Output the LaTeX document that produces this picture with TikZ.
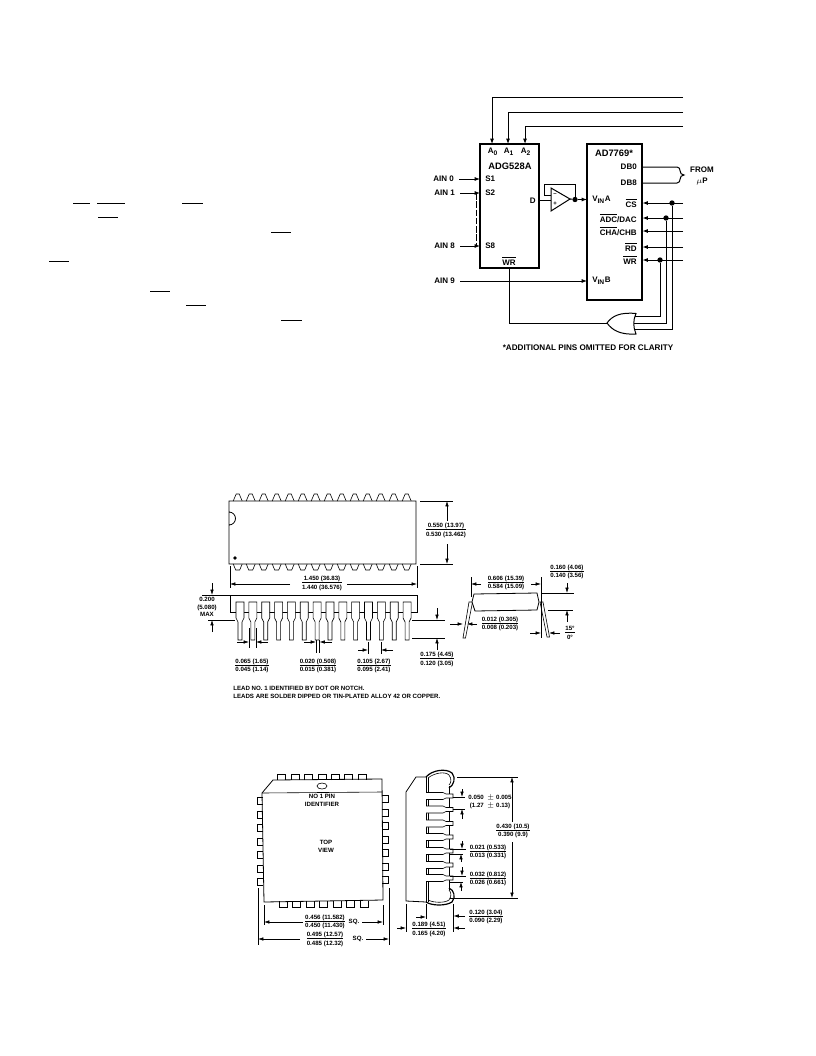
\documentclass[tikz,border=0pt]{standalone}
\usepackage{fontspec}
\setmainfont{Liberation Sans}
\usetikzlibrary{arrows.meta}
\newcommand{\ovl}[1]{$\overline{\hbox{#1}}$}
\newcommand{\fr}[2]{\begin{tabular}{@{}c@{}}#1\\[-0.4pt]\hline\rule{0pt}{4.8pt}#2\end{tabular}}
\tikzset{
  wire/.style={line width=0.75pt,black},
  arw/.style={wire,-{Latex[length=4pt,width=3pt]}},
  sch/.style={font=\fontsize{6}{7}\selectfont\bfseries,inner sep=0pt},
  schl/.style={sch,anchor=west},
  schr/.style={sch,anchor=east},
  title/.style={font=\fontsize{7}{8}\selectfont\bfseries,inner sep=0pt},
  box/.style={line width=1.1pt,black},
  dm/.style={line width=0.45pt,black},
  dmp/.style={line width=0.6pt,black},
  dma/.style={dm,-{Latex[length=4pt,width=2.6pt]}},
  lab/.style={font=\fontsize{4.6}{5.5}\selectfont\bfseries,inner sep=0pt,align=center},
  lablt/.style={font=\fontsize{4.6}{5.5}\selectfont\bfseries,inner sep=0pt,align=left,anchor=west},
  dot/.style={circle,fill=black,inner sep=0pt,minimum size=4pt}
}
\begin{document}
\begin{tikzpicture}[x=0.75pt,y=-0.75pt]
\useasboundingbox (0,0) rectangle (816,1056);
\fill[white] (0,0) rectangle (816,1056);
% overbars of the text column
\foreach \a/\b/\c in {73/90/203,97/125/203,182/203/203,98/118/217,271/291/232,49/69/261,150/170/291,186/206/305,281/302/320}
  \draw[line width=0.7pt] (\a,\c) -- (\b,\c);
% ===== schematic =====
\draw[box] (480,144) rectangle (539,268);
\draw[box] (587,144) rectangle (642,300);
\node[title] (adg) at (510,166) {ADG528A};
\node[title] (ad) at (614,153) {AD7769*};
\coordinate (a0in) at (492,144);
\coordinate (a1in) at (508,144);
\coordinate (a2in) at (525,144);
\coordinate (a0e) at (683,97);
\coordinate (a1e) at (683,112);
\coordinate (a2e) at (683,126);
\draw[arw] (a0e) -- (a0e -| a0in) -- (a0in);
\draw[arw] (a1e) -- (a1e -| a1in) -- (a1in);
\draw[arw] (a2e) -- (a2e -| a2in) -- (a2in);
\node[sch] (a0l) at (493,152) {A\textsubscript{0}};
\node[sch] (a1l) at (509,152) {A\textsubscript{1}};
\node[sch] (a2l) at (526,152) {A\textsubscript{2}};
% inputs
\node[schr] (ain0) at (454,179) {AIN 0};
\node[schr] (ain1) at (455,193) {AIN 1};
\node[schr] (ain8) at (455,246) {AIN 8};
\node[schr] (ain9) at (455,281) {AIN 9};
\node[schl] (s1) at (485,179) {S1};
\node[schl] (s2) at (485,193) {S2};
\node[schl] (s8) at (485,246) {S8};
\coordinate (s1p) at (480,179);
\coordinate (s2p) at (480,193);
\coordinate (s8p) at (480,246);
\draw[arw] ([xshift=4pt]ain0.east) -- (s1p);
\draw[arw] ([xshift=4pt]ain1.east) -- (s2p);
\draw[arw] ([xshift=4pt]ain8.east) -- (s8p);
\draw[wire,dash pattern=on 5pt off 1.2pt] (476,193) -- (476,246);
\node[schr] (dl) at (536,201) {D};
\node[sch] (wr1) at (509,261) {\ovl{WR}};
\coordinate (wrp) at (509,268);
% op amp
\coordinate (opa) at (551,188);
\coordinate (opb) at (551,211);
\coordinate (opc) at (570,199);
\draw[line width=0.75pt,fill=white] (opa) -- (opb) -- (opc) -- cycle;
\coordinate (dp) at (539,200);
\draw[wire] (dp) -- (551,200);
\node[font=\fontsize{4.5}{5}\selectfont\bfseries,inner sep=0pt] (opm) at (555,195) {–};
\node[font=\fontsize{4.5}{5}\selectfont\bfseries,inner sep=0pt] (opp) at (555,204) {+};
\node[dot] (opd) at (575,199.5) {};
\draw[wire] (551,195) -- (544,195) -- (544,184) -- (575,184) -- (opd);
\draw[wire] (opc) -- (opd);
\coordinate (vina) at (587,199.5);
\draw[arw] (opd) -- (vina);
\node[schl] (vinal) at (592,199.5) {V\textsubscript{IN}A};
\node[schl] (vinbl) at (592,280.5) {V\textsubscript{IN}B};
\coordinate (vinb) at (587,281);
\draw[arw] ([xshift=4pt]ain9.east) -- (vinb);
% right pins
\node[schr] (db0) at (637,167) {DB0};
\node[schr] (db8) at (637,183) {DB8};
\node[schr] (cs) at (637,203) {\ovl{CS}};
\node[schr] (adc) at (637,218) {\ovl{ADC}/DAC};
\node[schr] (cha) at (637,231) {\ovl{CHA}/CHB};
\node[schr] (rd) at (637,247) {\ovl{RD}};
\node[schr] (wr2) at (637,260) {\ovl{WR}};
\coordinate (db0p) at (642,167);
\coordinate (db8p) at (642,183);
\draw[wire] (db0p) -- (677,167) .. controls (682,167) and (678,175) .. (684,175) .. controls (678,175) and (682,183) .. (677,183) -- (db8p);
\node[sch] (from) at (702,170) {FROM};
\node[sch] (up) at (702,182) {$\mu$P};
\foreach \n/\y/\e in {csp/203/cse,adcp/218/adce,chap/231/chae,rdp/247/rde,wrp2/260/wre}{
  \coordinate (\n) at (642.5,\y);
  \coordinate (\e) at (683,\y);
  \draw[arw] (\e) -- (\n);
}
\node[dot] (csd) at (672,203) {};
\node[dot] (adcd) at (666,218) {};
\node[dot] (wrd) at (660,260) {};
% OR gate
\coordinate (ortip) at (607,323);
\draw[line width=0.75pt,fill=white] (ortip) .. controls (612,316) and (620,312) .. (636,313.5) .. controls (633,320) and (633,327) .. (636,334) .. controls (620,335) and (612,330) .. (ortip) -- cycle;
\draw[wire] (wrp) -- (509,323) -- (ortip);
\draw[wire] (634.5,316.5) -- (660,316.5) -- (wrd);
\draw[wire] (634,323) -- (666,323) -- (adcd);
\draw[wire] (634.5,329.5) -- (672,329.5) -- (csd);
\node[font=\fontsize{6.1}{7}\selectfont\bfseries,inner sep=0pt] (note1) at (588,348) {*ADDITIONAL PINS OMITTED FOR CLARITY};
% ===== DIP top view =====
\draw[dmp] (229,501) -- (229,525) arc[start angle=90,end angle=-90,radius=6.5] -- (229,564) -- (416,564) -- (416,501) -- cycle;
\fill (235,558) circle (1.8);
\foreach \i in {0,...,13}{
  \pgfmathsetmacro{\c}{237.7+13*\i}
  \draw[dm] (\c-4.5,501) -- (\c-3,497.5) -- (\c-1.5,494) -- (\c+1.5,494) -- (\c+3,497.5) -- (\c+4.5,501);
  \draw[dm] (\c-4.5,564) -- (\c-2,570) -- (\c+2,570) -- (\c+4.5,564);
}
\draw[dm] (420,501) -- (453,501) (420,564) -- (453,564);
\draw[dma] (447,521) -- (447,501);
\draw[dma] (447,544) -- (447,564);
\node[lab] (d550) at (446,530.5) {\fr{0.550 (13.97)}{0.530 (13.462)}};
\draw[dm] (230,566) -- (230,588) (417,566) -- (417,588);
\draw[dma] (290,584) -- (230,584);
\draw[dma] (347,584) -- (417,584);
\node[lab] (d1450) at (322,583.5) {\fr{1.450 (36.83)}{1.440 (36.576)}};
% DIP side view
\draw[dmp] (230,595) rectangle (417,612);
\foreach \i in {0,...,13}{
  \pgfmathsetmacro{\c}{240+12.85*\i}
  \draw[dm,fill=white] (\c-4,602) -- (\c-4,618) -- (\c-2,622) -- (\c-2,640) -- (\c+2,640) -- (\c+2,622) -- (\c+4,618) -- (\c+4,602) -- cycle;
}
\draw[dm] (202,595) -- (230,595) (208,620) -- (235,620);
\draw[dma] (212,583) -- (212,595);
\draw[dma] (212,632) -- (212,620);
\node[lab] (d200) at (207,607) {0.200\\(5.080)\\MAX};
\draw[dm] (249,628) -- (249,648) (256,628) -- (256,648);
\draw[dma] (237,642) -- (249,642);
\draw[dma] (268,642) -- (256,642);
\node[lab] (d065) at (252,666) {\fr{0.065 (1.65)}{0.045 (1.14)}};
\draw[dm] (316,640) -- (316,653) (319.5,640) -- (319.5,653);
\draw[dma] (304,642) -- (316,642);
\draw[dma] (332,642) -- (319.5,642);
\node[lab] (d020) at (318,666) {\fr{0.020 (0.508)}{0.015 (0.381)}};
\draw[dm] (368,642) -- (368,654) (381,642) -- (381,654);
\draw[dma] (358,650) -- (368,650);
\draw[dma] (393,650) -- (381,650);
\node[lab] (d105) at (374,666) {\fr{0.105 (2.67)}{0.095 (2.41)}};
\draw[dm] (412,620) -- (445,620) (412,638) -- (445,638);
\draw[dma] (437,608) -- (437,620);
\draw[dma] (437,650) -- (437,638);
\node[lab] (d175) at (437,659.5) {\fr{0.175 (4.45)}{0.120 (3.05)}};
\node[lablt] (n1) at (233,688) {LEAD NO. 1 IDENTIFIED BY DOT OR NOTCH.};
\node[lablt] (n2) at (233,696) {LEADS ARE SOLDER DIPPED OR TIN-PLATED ALLOY 42 OR COPPER.};
% DIP end view
\draw[dm] (469,602) -- (472.5,602) -- (465.5,638) -- (463,638) -- cycle;
\draw[dm] (540,602) -- (543,602) -- (549.5,637) -- (547,637) -- cycle;
\draw[line width=0.6pt,fill=white] (474,594) -- (537,593) -- (539,602) -- (537,610) -- (475,611) -- (472,602) -- cycle;
\draw[dm] (471,577) -- (471,597) (541,577) -- (541,638);
\draw[dma] (481,584) -- (471,584);
\draw[dma] (531,584) -- (541,584);
\node[lab] (d606) at (506,583) {\fr{0.606 (15.39)}{0.584 (15.09)}};
\draw[dm] (541,593) -- (574,593) (548,610) -- (573,610);
\draw[dma] (567,583) -- (567,593);
\draw[dma] (567,622) -- (567,610);
\node[lab] (d160) at (567,572) {\fr{0.160 (4.06)}{0.140 (3.56)}};
\draw[dma] (450,624) -- (463,624);
\draw[dma] (477,624) -- (467,624);
\node[lab] (d012) at (500,624) {\fr{0.012 (0.305)}{0.008 (0.203)}};
\draw[dma] (530,633) -- (541,633);
\draw[dma] (560,633) -- (549,633);
\node[lab] (d15) at (570,633.5) {\fr{15°}{0°}};
% ===== PLCC top view =====
\foreach \i in {0,...,6}{
  \pgfmathsetmacro{\c}{281.7+13.4*\i}
  \draw[dmp] (\c-4,780) -- (\c-4,774.5) -- (\c+4,774.5) -- (\c+4,780);
  \pgfmathsetmacro{\d}{283+13.5*\i}
  \draw[dmp] (\d-4,901) -- (\d-4,907) -- (\d+4,907) -- (\d+4,901);
  \pgfmathsetmacro{\e}{801+13.5*\i}
  \draw[dmp] (263,\e-3.5) -- (257,\e-3.5) -- (257,\e+3.5) -- (263,\e+3.5);
  \pgfmathsetmacro{\g}{799+13.5*\i}
  \draw[dmp] (382,\g-3.5) -- (388,\g-3.5) -- (388,\g+3.5) -- (382,\g+3.5);
}
\draw[line width=0.6pt] (262,793) -- (273,780) -- (382,779) -- (383,900) -- (264,902) -- cycle;
\draw[dm] (262,793) -- (382,792);
\draw[dm] (322,786) ellipse (5 and 3);
\node[lab] (pin1) at (322,800.5) {NO 1 PIN\\IDENTIFIER};
\node[lab] (top) at (326,846.5) {TOP\\VIEW};
\draw[dm] (264,905) -- (264,925) (383,905) -- (383,925);
\draw[dma] (303,922) -- (264,922);
\draw[dma] (362,922) -- (383,922);
\node[lab] (d456) at (325,922) {\fr{0.456 (11.582)}{0.450 (11.430)}};
\node[lab] (sq1) at (354,922) {SQ.};
\draw[dm] (258,888) -- (258,945) (389,888) -- (389,945);
\draw[dma] (300,939) -- (258,939);
\draw[dma] (366,939) -- (389,939);
\node[lab] (d495) at (325,939.5) {\fr{0.495 (12.57)}{0.485 (12.32)}};
\node[lab] (sq2) at (358,939) {SQ.};
% ===== PLCC side view =====
\draw[line width=0.6pt] (426,777) -- (416,777) -- (406,792) -- (406,901) -- (426,902);
\draw[line width=0.6pt] (426,776) -- (426,902);
\draw[dm] (428,778) -- (428,902);
\draw[dm] (449,786) -- (449,890);
% J-lead ends
\draw[line width=0.9pt] (426,777) .. controls (432,770) and (446,768) .. (452,773) .. controls (456,778) and (454,785) .. (449,788);
\draw[dm] (428,778) .. controls (434,773) and (445,771) .. (449,775) .. controls (452,779) and (451,783) .. (449,785);
\draw[line width=0.9pt] (426,902) .. controls (432,906) and (446,906) .. (452,902) .. controls (456,897) and (454,890) .. (449,888);
\draw[dm] (428,900) .. controls (434,903) and (445,903) .. (449,900) .. controls (452,896) and (451,892) .. (449,890);
\foreach \y in {796,809.5,823.5,837,851,865,878}{
  \draw[dm,fill=white] (426,\y-3.5) -- (443,\y-3.5) -- (446,\y-2) -- (453,\y-2) -- (453,\y+2) -- (446,\y+2) -- (443,\y+3.5) -- (426,\y+3.5);
}
\draw[dm] (457,777) -- (518,777) (450,898) -- (518,898);
\draw[dma] (512,822) -- (512,777);
\draw[dma] (512,842) -- (512,898);
\node[lab] (d430) at (513,831) {\fr{0.430 (10.5)}{0.390 (9.9)}};
\draw[dm] (453,797) -- (465,797) (453,809) -- (465,809);
\draw[dma] (462,789) -- (462,797);
\draw[dma] (462,819) -- (462,809);
\node[lab] (d050) at (490,798) {0.050 \ $\pm$ 0.005};
\node[lab] (d050b) at (490,806) {(1.27 \ $\pm$ 0.13)};
\draw[dm] (450,849) -- (466,849) (449,854) -- (463,854);
\draw[dma] (462,841) -- (462,849);
\draw[dma] (461,862) -- (461,854);
\node[lab] (d021) at (488,852) {\fr{0.021 (0.533)}{0.013 (0.331)}};
\draw[dm] (450,876) -- (466,876) (449,882) -- (463,882);
\draw[dma] (462,867) -- (462,876);
\draw[dma] (461,891) -- (461,882);
\node[lab] (d032) at (488,879) {\fr{0.032 (0.812)}{0.026 (0.661)}};
\draw[dm] (426,904) -- (426,919) (453,904) -- (453,932) (406,904) -- (406,932);
\draw[dma] (416,917) -- (426,917);
\draw[dma] (465,916) -- (453.5,916);
\draw[dma] (465,928) -- (453.5,928);
\draw[dma] (397,928) -- (406,928);
\node[lab] (d120) at (486,917) {\fr{0.120 (3.04)}{0.090 (2.29)}};
\node[lab] (d189) at (429,929.5) {\fr{0.189 (4.51)}{0.165 (4.20)}};
\end{tikzpicture}
\end{document}
